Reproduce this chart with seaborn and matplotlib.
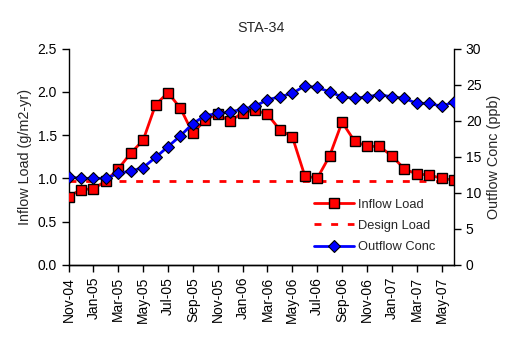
import matplotlib
matplotlib.use("Agg")
import matplotlib.pyplot as plt
import seaborn as sns
import pandas as pd
from matplotlib.lines import Line2D

months = ["Nov-04", "Dec-04", "Jan-05", "Feb-05", "Mar-05", "Apr-05", "May-05", "Jun-05",
          "Jul-05", "Aug-05", "Sep-05", "Oct-05", "Nov-05", "Dec-05", "Jan-06", "Feb-06",
          "Mar-06", "Apr-06", "May-06", "Jun-06", "Jul-06", "Aug-06", "Sep-06", "Oct-06",
          "Nov-06", "Dec-06", "Jan-07", "Feb-07", "Mar-07", "Apr-07", "May-07", "Jun-07"]
inflow_load = [0.79, 0.87, 0.88, 0.97, 1.11, 1.29, 1.44, 1.85, 1.99, 1.81, 1.52, 1.68,
               1.74, 1.66, 1.76, 1.79, 1.74, 1.56, 1.48, 1.03, 1.00, 1.26, 1.65, 1.43,
               1.37, 1.37, 1.26, 1.11, 1.05, 1.04, 1.00, 0.98]
outflow_conc = [12.2, 12.0, 12.0, 12.0, 12.7, 13.0, 13.5, 14.9, 16.4, 17.9, 19.6, 20.7,
                21.0, 21.2, 21.6, 22.0, 22.9, 23.3, 23.8, 24.8, 24.6, 24.0, 23.3, 23.1,
                23.3, 23.6, 23.3, 23.1, 22.4, 22.4, 22.0, 22.6]
design_load = 0.97
left_ticks = [0.0, 0.5, 1.0, 1.5, 2.0, 2.5]
right_ticks = [0, 5, 10, 15, 20, 25, 30]

df = pd.DataFrame({"idx": range(len(months)), "month": months,
                   "inflow": inflow_load, "outflow": outflow_conc})

sns.set_theme(style="ticks")
plt.rcParams["font.family"] = ["Liberation Sans", "DejaVu Sans"]
plt.rcParams["font.size"] = 10

fig, ax = plt.subplots(figsize=(5.21, 3.45), dpi=100)
fig.subplots_adjust(left=0.1315, right=0.8714, top=0.8594, bottom=0.232)

ax2 = ax.twinx()

ax.axhline(design_load, color="#ff0000", lw=2, ls=(0, (2.5, 3.5)), zorder=1)
sns.lineplot(data=df, x="idx", y="inflow", ax=ax, color="#ff0000", lw=2,
             marker="s", markersize=7, markerfacecolor="#ff0000",
             markeredgecolor="black", markeredgewidth=1, zorder=3)
sns.lineplot(data=df, x="idx", y="outflow", ax=ax2, color="#0000ff", lw=2,
             marker="D", markersize=6, markerfacecolor="#0000ff",
             markeredgecolor="black", markeredgewidth=0.8, zorder=3)

ax.set_xlim(0, len(months) - 1)
ax.set_ylim(0, 2.5)
ax2.set_ylim(0, 30)
ax.set_yticks(left_ticks)
ax.set_yticklabels([f"{t:.1f}" for t in left_ticks])
ax2.set_yticks(right_ticks)
ax.set_xticks(range(0, len(months), 2))
ax.set_xticklabels(months[::2], rotation=90)

ax.set_xlabel("")
ax.set_ylabel("Inflow Load (g/m2-yr)", fontsize=10.4)
ax2.set_ylabel("Outflow Conc (ppb)", fontsize=10.4)
ax.set_title("STA-34", fontsize=10.3, pad=12)

for a in (ax, ax2):
    a.spines["top"].set_visible(False)
    for s in a.spines.values():
        s.set_color("black")
        s.set_linewidth(1)
    a.tick_params(colors="black", labelsize=10, direction="out", length=5, width=1)
ax2.spines["left"].set_visible(False)
ax.spines["right"].set_visible(False)

handles = [
    Line2D([], [], color="#ff0000", lw=2, marker="s", markersize=7,
           markerfacecolor="#ff0000", markeredgecolor="black"),
    Line2D([], [], color="#ff0000", lw=2, ls=(0, (2.5, 3.5))),
    Line2D([], [], color="#0000ff", lw=2, marker="D", markersize=6,
           markerfacecolor="#0000ff", markeredgecolor="black", markeredgewidth=0.8),
]
ax2.legend(handles, ["Inflow Load", "Design Load", "Outflow Conc"],
           loc="center", bbox_to_anchor=(0.795, 0.18), frameon=False,
           fontsize=9.3, handlelength=3.1, numpoints=1, labelspacing=0.72,
           handletextpad=0.3)

fig.savefig("out.png", dpi=100)
